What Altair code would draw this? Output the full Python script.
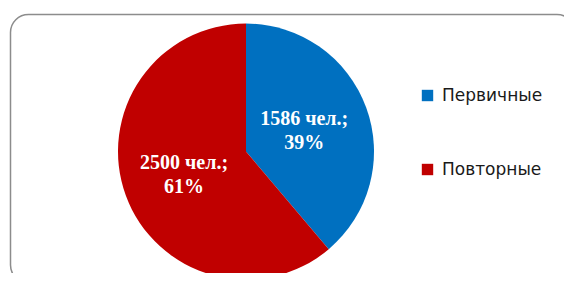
import altair as alt
import pandas as pd

categories = ["Первичные", "Повторные"]
values = [1586, 2500]
colors = ["#0070C0", "#C00000"]

total = sum(values)
labels = [f"{v} чел.;\n{round(v / total * 100)}%" for v in values]
df = pd.DataFrame({
    "category": categories,
    "value": values,
    "idx": list(range(len(categories))),
    "label": labels,
})

W, H = 556, 265
CX, CY, R = 238, 143.5, 128
theta_scale = alt.Scale(domain=[0, total])

pie = alt.Chart(df).mark_arc(stroke=None).encode(
    theta=alt.Theta("value:Q", stack=True, scale=theta_scale),
    order=alt.Order("idx:Q", sort="ascending"),
    color=alt.Color(
        "category:N",
        scale=alt.Scale(domain=categories, range=colors),
        legend=alt.Legend(
            orient="none", legendX=411, legendY=79, title=None,
            symbolType="square", symbolSize=130, symbolStrokeWidth=0,
            labelFont="DejaVu Sans", labelFontSize=17, labelColor="#1a1a1a",
            rowPadding=56, labelOffset=6,
        ),
    ),
    x=alt.value(CX), y=alt.value(CY), radius=alt.value(R),
)

text = alt.Chart(df).transform_window(
    cum="sum(value)", sort=[alt.SortField("idx", order="ascending")]
).transform_calculate(
    mid="datum.cum - datum.value / 2"
).mark_text(
    font="Liberation Serif", fontWeight="bold", fontSize=20, color="white",
    lineBreak="\n", lineHeight=24, align="center", baseline="middle", dy=-11,
).encode(
    theta=alt.Theta("mid:Q", stack=None, scale=theta_scale),
    text="label:N",
    radius=alt.Radius("idx:Q", scale=alt.Scale(type="linear", domain=[0, 1], range=[62, 66], zero=False)),
    x=alt.value(CX), y=alt.value(CY),
)

frame = alt.Chart(pd.DataFrame({"f": [0]})).mark_rect(
    filled=False, stroke="#8c8c8c", strokeWidth=1.5, cornerRadius=18,
).encode(x=alt.value(2.5), x2=alt.value(567), y=alt.value(6.5), y2=alt.value(275))

chart = alt.layer(frame, pie, text).properties(
    width=W, height=H, padding=0, autosize=alt.AutoSizeParams(type="none"),
    background="white",
).configure_view(stroke=None)

chart.save("out.html", embed_options={"renderer": "svg", "actions": False})
